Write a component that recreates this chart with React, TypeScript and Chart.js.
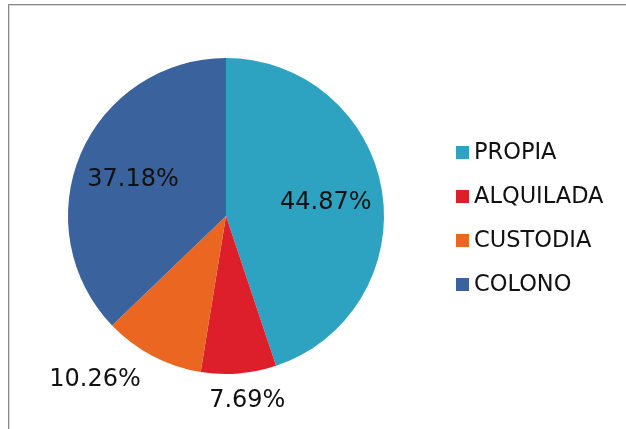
import React, { useEffect, useRef } from "react";
import { Chart, registerables } from "chart.js";

Chart.register(...registerables);

const categories = ["PROPIA", "ALQUILADA", "CUSTODIA", "COLONO"];
const values = [44.87, 7.69, 10.26, 37.18];
const colors = ["#2DA3C1", "#DC1F2B", "#EB6620", "#3A629C"];

const FONT = "'DejaVu Sans', sans-serif";

const decorPlugin = {
  id: "decor",
  beforeDraw(chart: any) {
    const ctx = chart.ctx;
    ctx.save();
    ctx.fillStyle = "#ffffff";
    ctx.fillRect(0, 0, chart.width, chart.height);
    ctx.strokeStyle = "#8a8a8a";
    ctx.lineWidth = 1;
    ctx.strokeRect(8.5, 4.5, chart.width + 20, chart.height + 20);
    ctx.strokeStyle = "#d6d6d6";
    ctx.strokeRect(9.5, 5.5, chart.width + 20, chart.height + 20);
    ctx.restore();
  },
  afterDraw(chart: any) {
    const ctx = chart.ctx;
    const meta = chart.getDatasetMeta(0);
    const ds = chart.data.datasets[0];
    ctx.save();
    ctx.fillStyle = "#111111";
    ctx.font = `24px ${FONT}`;
    ctx.textBaseline = "middle";
    ctx.textAlign = "center";
    meta.data.forEach((arc: any, i: number) => {
      const v = ds.data[i] as number;
      const mid = (arc.startAngle + arc.endAngle) / 2;
      const r = arc.outerRadius;
      const txt = v.toFixed(2) + "%";
      const w = ctx.measureText(txt).width;
      const h = 22;
      let x: number, y: number;
      if (v > 20) {
        x = arc.x + Math.cos(mid) * r * 0.64;
        y = arc.y + Math.sin(mid) * r * 0.64 + 3;
      } else {
        const ax = arc.x + Math.cos(mid) * (r + 14);
        const ay = arc.y + Math.sin(mid) * (r + 14);
        x = ax + Math.cos(mid) * w * 1.2;
        y = ay + Math.sin(mid) * h * 0.6;
      }
      ctx.fillText(txt, x, y);
    });
    // legend
    const labels = chart.data.labels as string[];
    ctx.font = `22.5px ${FONT}`;
    ctx.textAlign = "left";
    const lx = 456;
    const ly0 = 152;
    const step = 44;
    labels.forEach((lab, i) => {
      const cy = ly0 + i * step;
      ctx.fillStyle = (ds.backgroundColor as string[])[i];
      ctx.fillRect(lx, cy - 6, 13, 13);
      ctx.fillStyle = "#111111";
      ctx.fillText(lab, lx + 18, cy + 1);
    });
    ctx.restore();
  },
};

export default function App() {
  const ref = useRef<HTMLCanvasElement | null>(null);
  useEffect(() => {
    if (!ref.current) return;
    const chart = new Chart(ref.current, {
      type: "pie",
      data: {
        labels: categories,
        datasets: [
          {
            data: values,
            backgroundColor: colors,
            borderWidth: 0,
          },
        ],
      },
      options: {
        animation: false,
        responsive: false,
        layout: { padding: { left: 68, right: 242, top: 58, bottom: 55 } },
        plugins: {
          legend: { display: false },
          tooltip: { enabled: false },
        },
      },
      plugins: [decorPlugin],
    });
    return () => chart.destroy();
  }, []);
  return (
    <div style={{ position: "fixed", left: 0, top: 0, width: 626, height: 429 }}>
      <canvas ref={ref} width={626} height={429} style={{ width: 626, height: 429 }} />
    </div>
  );
}
